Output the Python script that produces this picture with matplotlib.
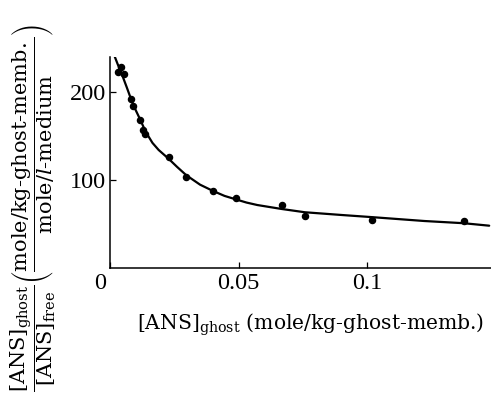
import matplotlib
matplotlib.use("Agg")
import matplotlib.pyplot as plt
import matplotlib.transforms as mtransforms

plt.rcParams["font.family"] = ["DejaVu Serif"]
plt.rcParams["mathtext.fontset"] = "dejavuserif"

# Measured binding data
ans_bound = [0.0030, 0.0044, 0.0056, 0.0082, 0.0089, 0.0118, 0.0128, 0.0136,
             0.0228, 0.0296, 0.0401, 0.0490, 0.0667, 0.0757, 0.1017, 0.1374]
ratio = [222, 227.6, 219.7, 191.7, 184, 168, 157, 151.7,
         125.7, 103.7, 87.5, 80, 71.7, 59.6, 54.7, 53.6]

# Fitted curve
fit_x = [0.0018, 0.0030, 0.0047, 0.0065, 0.0083, 0.0100, 0.0118, 0.0131,
         0.0144, 0.0165, 0.0189, 0.0228, 0.0260, 0.0296, 0.0350, 0.0401,
         0.0445, 0.0490, 0.0530, 0.0572, 0.0667, 0.0757, 0.0900, 0.1017,
         0.1221, 0.1374, 0.1473]
fit_y = [240, 231, 219, 205, 190.6, 179, 168, 159.5,
         152, 142, 134, 124, 115, 105.5, 94.7, 87.5,
         82, 78, 74.5, 71.7, 67.2, 63.5, 60.4, 58.0,
         53.6, 51.1, 48.3]

x_ticks = [0, 0.05, 0.1]
x_tick_labels = ["0", "0.05", "0.1"]
y_ticks = [100, 200]
y_tick_labels = ["100", "200"]

fig = plt.figure(figsize=(4.91, 3.97), dpi=100)
ax = fig.add_axes([0.224, 0.324, 0.776, 0.532])

ax.plot(fit_x, fit_y, color="black", lw=1.6, solid_capstyle="round",
        solid_joinstyle="round")
ax.plot(ans_bound, ratio, "o", color="black", ms=4.4)

ax.set_xlim(0, 0.148)
ax.set_ylim(0, 239)
ax.spines["top"].set_visible(False)
ax.spines["right"].set_visible(False)
for s in ("left", "bottom"):
    ax.spines[s].set_linewidth(1.1)

ax.set_xticks(x_ticks)
ax.set_xticklabels(x_tick_labels)
ax.set_yticks(y_ticks)
ax.set_yticklabels(y_tick_labels)
ax.tick_params(direction="in", length=4, width=0.9)
ax.tick_params(axis="y", pad=3)
ax.tick_params(axis="x", pad=3)
for lab in ax.get_xticklabels() + ax.get_yticklabels():
    lab.set_fontfamily("Liberation Serif")
    lab.set_fontsize(17.5)

# the origin label sits left of the corner
shift = mtransforms.ScaledTranslation(-10 / 100, 0, fig.dpi_scale_trans)
ax.get_xticklabels()[0].set_transform(ax.get_xticklabels()[0].get_transform() + shift)

fig.text(137 / 491, 1 - 325 / 397,
         r"$[\mathrm{ANS}]_{\mathrm{ghost}}$ (mole/kg‐ghost‐memb.)",
         fontsize=14.6, ha="left", va="center")

ylab = (r"$\dfrac{[\mathrm{ANS}]_{\mathrm{ghost}}}{[\mathrm{ANS}]_{\mathrm{free}}}"
        r"\left(\dfrac{\mathrm{mole/kg‐ghost‐memb.}}{\mathrm{mole}/l\mathrm{‐medium}}\right)$")
fig.text(33 / 491, 1 - 208 / 397, ylab, fontsize=15, rotation=90,
         ha="center", va="center")

fig.savefig("out.png", dpi=100)
